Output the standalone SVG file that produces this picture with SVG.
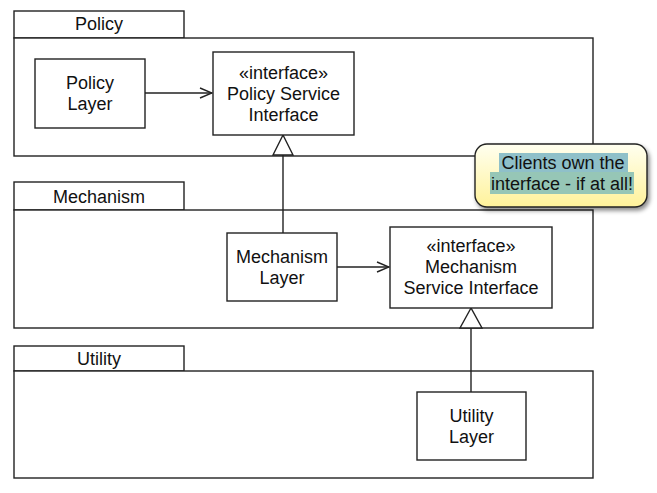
<svg xmlns="http://www.w3.org/2000/svg" width="657" height="493" viewBox="0 0 657 493">
<style>
text{font-family:"Liberation Sans",Arial,sans-serif;font-size:18px;fill:#111;text-anchor:middle}
.pk{fill:#fff;stroke:#222;stroke-width:1.4}
.bx{fill:#fff;stroke:#222;stroke-width:1.4}
.ln{fill:none;stroke:#222;stroke-width:1.4}
.tri{fill:#fff;stroke:#222;stroke-width:1.4}
</style>
<defs>
<marker id="open" markerWidth="14" markerHeight="12" refX="13" refY="6" orient="auto" markerUnits="userSpaceOnUse">
<path d="M1,1 L13,6 L1,11" fill="none" stroke="#222" stroke-width="1.4"/>
</marker>
<linearGradient id="noteg" x1="0" y1="0" x2="0" y2="1">
<stop offset="0" stop-color="#fffff0"/>
<stop offset="1" stop-color="#fff29a"/>
</linearGradient>
<filter id="sh" x="-10%" y="-10%" width="130%" height="140%">
<feDropShadow dx="2" dy="3" stdDeviation="2" flood-color="#000" flood-opacity="0.45"/>
</filter>
</defs>
<g id="pkg-policy">
<rect class="pk" x="14" y="11" width="170" height="27"/>
<rect class="pk" x="14" y="38" width="579" height="118"/>
<text x="99" y="30">Policy</text>
</g>
<g id="pkg-mechanism">
<rect class="pk" x="14" y="182" width="170" height="28"/>
<rect class="pk" x="14" y="210" width="579" height="118"/>
<text x="99" y="203">Mechanism</text>
</g>
<g id="pkg-utility">
<rect class="pk" x="14" y="346" width="170" height="25"/>
<rect class="pk" x="14" y="371" width="579" height="107"/>
<text x="99" y="365">Utility</text>
</g>
<g id="connectors">
<line class="ln" x1="145" y1="93" x2="212" y2="93" marker-end="url(#open)"/>
<line class="ln" x1="337" y1="267" x2="389" y2="267" marker-end="url(#open)"/>
<line class="ln" x1="283" y1="155" x2="283" y2="233"/>
<polygon class="tri" points="283,135 273,155 293,155"/>
<line class="ln" x1="471" y1="328" x2="471" y2="392"/>
<polygon class="tri" points="471,308 460,328 482,328"/>
</g>
<g id="policy-layer">
<rect class="bx" x="35" y="59" width="110" height="69"/>
<text x="90" y="89">Policy</text>
<text x="90" y="110">Layer</text>
</g>
<g id="policy-service-interface">
<rect class="bx" x="213" y="52" width="141" height="83"/>
<text x="283.5" y="79">«interface»</text>
<text x="283.5" y="100">Policy Service</text>
<text x="283.5" y="121">Interface</text>
</g>
<g id="mechanism-layer">
<rect class="bx" x="227" y="233" width="110" height="68"/>
<text x="282" y="263">Mechanism</text>
<text x="282" y="284">Layer</text>
</g>
<g id="mechanism-service-interface">
<rect class="bx" x="390" y="227" width="162" height="81"/>
<text x="471" y="252">«interface»</text>
<text x="471" y="273">Mechanism</text>
<text x="471" y="294">Service Interface</text>
</g>
<g id="utility-layer">
<rect class="bx" x="417" y="392" width="109" height="68"/>
<text x="471.5" y="422">Utility</text>
<text x="471.5" y="443">Layer</text>
</g>
<g id="note">
<rect x="475" y="144" width="172" height="63" rx="12" ry="12" fill="url(#noteg)" stroke="#222" stroke-width="1.4" filter="url(#sh)"/>
<rect x="499" y="153" width="129" height="19" fill="#8fc0c9"/>
<rect x="490" y="172" width="144" height="22" fill="#96c6b6"/>
<text x="563" y="169">Clients own the</text>
<text x="562" y="190">interface - if at all!</text>
</g>
</svg>
